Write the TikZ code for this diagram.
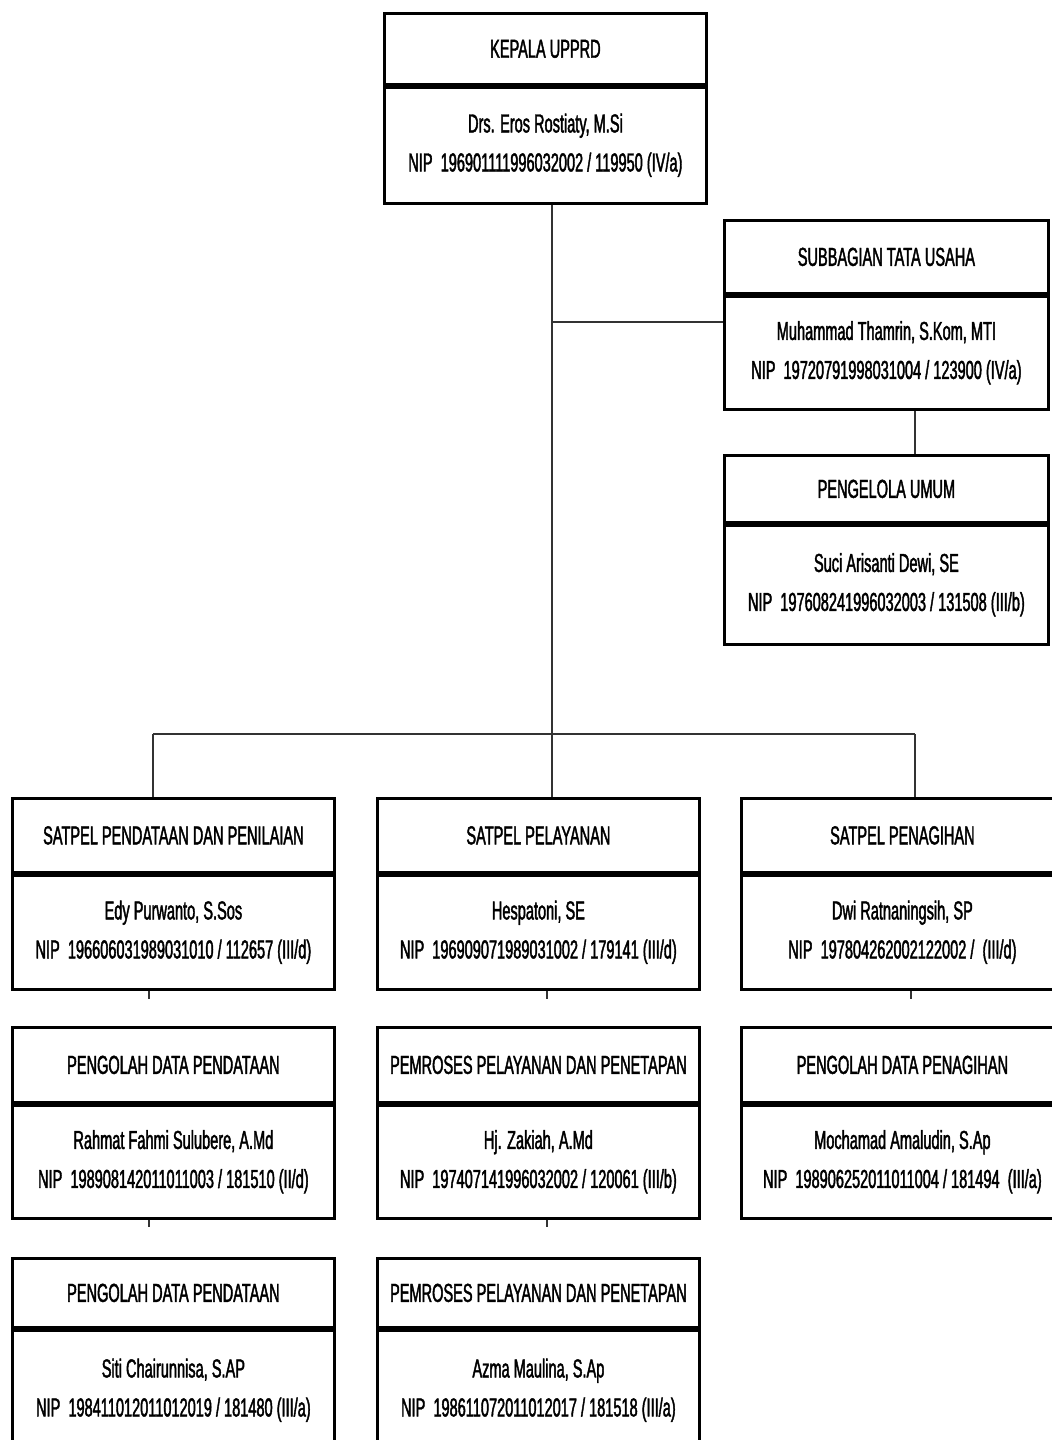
\documentclass[tikz,border=0pt]{standalone}
\usepackage{fontspec}
\setmainfont{Liberation Sans}[FakeStretch=0.56, FakeBold=1.6]
\begin{document}
\begin{tikzpicture}[x=0.5pt,y=-0.5pt,
  boxbase/.style={draw=black, line width=1.4pt, inner sep=0pt, align=center, anchor=north west,
    font=\fontsize{13}{19.5}\selectfont},
  hdr/.style={boxbase, minimum width=#1},
  hdr/.default=161pt,
  bdy/.style={boxbase, minimum width=#1, anchor=north west},
  bdy/.default=161pt,
  conn/.style={draw=black!80, line width=1pt}]
\useasboundingbox (0,0) rectangle (1052,1440);
\clip (0,0) rectangle (1052,1440);
\fill[white] (0,0) rectangle (1052,1440);

% KEPALA
\node[hdr, minimum height=35.5pt] (kT) at (383,12) {KEPALA UPPRD};
\node[bdy, minimum height=58pt] (kB) at (kT.south west) {Drs. Eros Rostiaty, M.Si\\NIP\ \ 196901111996032002 / 119950 (IV/a)};

% SUBBAGIAN
\node[hdr=162pt, minimum height=36.5pt] (sT) at (723,219) {SUBBAGIAN TATA USAHA};
\node[bdy=162pt, minimum height=56.5pt] (sB) at (sT.south west) {Muhammad Thamrin, S.Kom, MTI\\NIP\ \ 19720791998031004 / 123900 (IV/a)};

% PENGELOLA UMUM
\node[hdr=162pt, minimum height=33.5pt] (pT) at (723,454) {PENGELOLA UMUM};
\node[bdy=162pt, minimum height=59.5pt] (pB) at (pT.south west) {Suci Arisanti Dewi, SE\\NIP\ \ 197608241996032003 / 131508 (III/b)};

% Row 1
\node[hdr, minimum height=37pt] (aT) at (11,797) {SATPEL PENDATAAN DAN PENILAIAN};
\node[bdy, minimum height=57pt] (aB) at (aT.south west) {Edy Purwanto, S.Sos\\NIP\ \ 196606031989031010 / 112657 (III/d)};
\node[hdr, minimum height=37pt] (bT) at (376,797) {SATPEL PELAYANAN};
\node[bdy, minimum height=57pt] (bB) at (bT.south west) {Hespatoni, SE\\NIP\ \ 196909071989031002 / 179141 (III/d)};
\node[hdr, minimum height=37pt] (cT) at (740,797) {SATPEL PENAGIHAN};
\node[bdy, minimum height=57pt] (cB) at (cT.south west) {Dwi Ratnaningsih, SP\\NIP\ \ 197804262002122002 /\ \ (III/d)};

% Row 2
\node[hdr, minimum height=37.5pt] (a2T) at (11,1026) {PENGOLAH DATA PENDATAAN};
\node[bdy, minimum height=56.5pt] (a2B) at (a2T.south west) {Rahmat Fahmi\ Sulubere, A.Md\\NIP\ \ 198908142011011003 / 181510 (II/d)};
\node[hdr, minimum height=37.5pt] (b2T) at (376,1026) {PEMROSES PELAYANAN DAN PENETAPAN};
\node[bdy, minimum height=56.5pt] (b2B) at (b2T.south west) {Hj. Zakiah, A.Md\\NIP\ \ 197407141996032002 / 120061 (III/b)};
\node[hdr, minimum height=37.5pt] (c2T) at (740,1026) {PENGOLAH DATA PENAGIHAN};
\node[bdy, minimum height=56.5pt] (c2B) at (c2T.south west) {Mochamad Amaludin, S.Ap\\NIP\ \ 198906252011011004 / 181494\ \ (III/a)};

% Row 3
\node[hdr, minimum height=34.5pt] (a3T) at (11,1257) {PENGOLAH DATA PENDATAAN};
\node[bdy, minimum height=60pt] (a3B) at (a3T.south west) {Siti Chairunnisa, S.AP\\NIP\ \ 198411012011012019 / 181480 (III/a)};
\node[hdr, minimum height=34.5pt] (b3T) at (376,1257) {PEMROSES PELAYANAN DAN PENETAPAN};
\node[bdy, minimum height=60pt] (b3B) at (b3T.south west) {Azma Maulina, S.Ap\\NIP\ \ 198611072011012017 / 181518 (III/a)};

% connectors
\coordinate (spine) at (552,0);
\coordinate (brk) at (723,322);
\coordinate (hbar) at (0,734);
\coordinate (lx) at (153,0);
\coordinate (rx) at (915,0);
\draw[conn] (kB.south -| spine) -- (bT.north -| spine);
\draw[conn] (spine |- brk) -- (sB.west |- brk);
\draw[conn] (sB.south -| rx) -- (pT.north -| rx);
\draw[conn] (lx |- hbar) -- (rx |- hbar);
\draw[conn] (lx |- hbar) -- (aT.north -| lx);
\draw[conn] (rx |- hbar) -- (cT.north -| rx);

% stubs
\coordinate (s1) at (149,999);
\coordinate (s2) at (547,999);
\coordinate (s3) at (911,999);
\coordinate (s4) at (149,1227);
\coordinate (s5) at (547,1227);
\draw[conn] (aB.south -| s1) -- (s1);
\draw[conn] (bB.south -| s2) -- (s2);
\draw[conn] (cB.south -| s3) -- (s3);
\draw[conn] (a2B.south -| s4) -- (s4);
\draw[conn] (b2B.south -| s5) -- (s5);
\end{tikzpicture}
\end{document}
